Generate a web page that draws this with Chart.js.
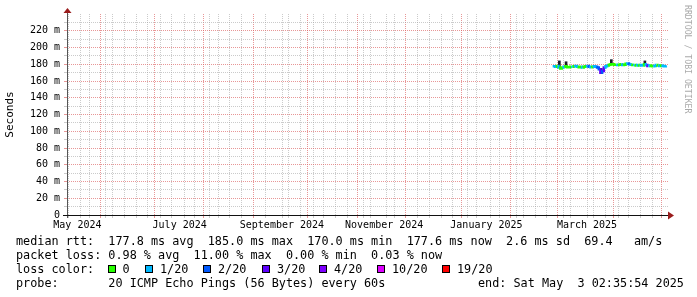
<!DOCTYPE html>
<html>
<head>
<meta charset="utf-8">
<script src="https://cdn.jsdelivr.net/npm/chart.js@4.4.1/dist/chart.umd.min.js"></script>
<style>
body { margin: 0; background: #fff; }
#wrap { position: relative; width: 697px; height: 297px; overflow: hidden; font-family: 'DejaVu Sans Mono', monospace; color: #000; }
#chart { position: absolute; left: 0; top: 0; }
.row { position: absolute; margin: 0; font-family: 'DejaVu Sans Mono', monospace; font-size: 11.8px; line-height: 14px; white-space: pre; }
.box { position: absolute; width: 8px; height: 8px; box-sizing: border-box; border: 1px solid #000; }
#credit { position: absolute; left: 683px; top: 5px; writing-mode: vertical-rl; font-size: 8.2px; color: #aaa; white-space: pre; }
</style>
</head>
<body>
<div id="wrap">
  <canvas id="chart" width="697" height="297"></canvas>
  <div id="credit">RRDTOOL / TOBI OETIKER</div>
  <div class="row" style="left:16px;top:234px">median rtt:  177.8 ms avg  185.0 ms max  170.0 ms min  177.6 ms now  2.6 ms sd  69.4   am/s</div>
  <div class="row" style="left:16px;top:248px">packet loss: 0.98 % avg  11.00 % max  0.00 % min  0.03 % now</div>
  <div class="row" style="left:16px;top:262px">loss color:</div>
  <div id="lossLegend"></div>
  <div class="row" style="left:16px;top:276px">probe:       20 ICMP Echo Pings (56 Bytes) every 60s</div>
  <div class="row" style="left:478px;top:276px">end: Sat May  3 02:35:54 2025</div>
</div>
<script>
// days counted from 2024-05-09
const startDay = 290;
const medianRtt = [177.5, 177.5, 177, 178, 176, 175, 176, 177, 177.5, 176.5,
  176.5, 177, 177, 177.5, 178, 177, 176.5, 177, 176, 177,
  177.5, 178, 177, 176.5, 177, 177.5, 177, 176, 174, 170,
  172, 176, 177.5, 178.5, 179.5, 180, 180, 179.5, 179.5, 179,
  179.5, 180, 179, 179.5, 180.5, 181, 180, 179.5, 179, 179,
  178.5, 179, 178.5, 179, 178.5, 180, 179, 178, 178.5, 178,
  177.5, 178, 179, 178.5, 178, 178.5, 178, 177.5, 177.6];
// lost pings out of 20
const lossCount = [1, 1, 0, 1, 0, 0, 1, 0, 0, 0,
  0, 1, 0, 1, 1, 0, 0, 1, 0, 0,
  1, 2, 1, 0, 1, 1, 2, 2, 3, 2,
  3, 1, 1, 0, 0, 0, 0, 0, 1, 0,
  0, 1, 0, 0, 1, 2, 1, 0, 1, 0,
  1, 0, 1, 1, 0, 1, 3, 1, 0, 0,
  1, 1, 0, 1, 0, 1, 1, 1, 1];
const smokeDays = [294, 298, 319, 325, 345];
const smokeLow = [176, 177, 169, 180, 179];
const smokeHigh = [184, 183, 175, 185.5, 184];

const lossLevels = [0, 1, 2, 3, 4, 10, 19];
const lossLabels = ['0', '1/20', '2/20', '3/20', '4/20', '10/20', '19/20'];
const lossColors = ['#26ff00', '#00b8ff', '#0059ff', '#5e00ff', '#7e00ff', '#dd00ff', '#ff0000'];

const xLabels = ['May 2024', 'July 2024', 'September 2024', 'November 2024', 'January 2025', 'March 2025'];
const xLabelDays = [6.5, 67.5, 128.5, 189.5, 250.5, 310.5];
const monthStarts = [23, 53, 84, 115, 145, 176, 206, 237, 268, 296, 327, 357];

// legend boxes
const legendX = [122.5, 160, 218, 277, 334, 392, 457];
const lossLegend = document.getElementById('lossLegend');
lossLabels.forEach(function (lab, i) {
  const b = document.createElement('div');
  b.className = 'box';
  b.style.left = (legendX[i] - 15) + 'px';
  b.style.top = '264.5px';
  b.style.background = lossColors[i];
  lossLegend.appendChild(b);
  const t = document.createElement('div');
  t.className = 'row';
  t.style.left = legendX[i] + 'px';
  t.style.top = '262px';
  t.textContent = lab;
  lossLegend.appendChild(t);
});

function lossColor(n) {
  let c = lossColors[0];
  lossLevels.forEach(function (lv, i) { if (n >= lv) c = lossColors[i]; });
  return c;
}

const weekSundays = [];
for (let d = 3; d <= 358; d += 7) weekSundays.push(d);

const majorGrid = 'rgba(220,95,95,0.65)';
const minorGrid = 'rgba(160,160,160,0.55)';
const none = 'rgba(0,0,0,0)';

function xGridColor(ctx) {
  if (!ctx.tick) return none;
  const v = ctx.tick.value;
  if (monthStarts.includes(v)) return majorGrid;
  if (weekSundays.includes(v)) return minorGrid;
  return none;
}
function yGridColor(ctx) {
  if (!ctx.tick) return none;
  const v = ctx.tick.value;
  if (v === 0 || v >= 240) return none;
  return v % 20 === 0 ? majorGrid : minorGrid;
}

const axesPlugin = {
  id: 'rrdAxes',
  afterDraw(chart) {
    const c = chart.ctx, a = chart.chartArea;
    c.save();
    c.lineWidth = 1;
    c.strokeStyle = '#555';
    c.beginPath();
    c.moveTo(a.left + 0.5, a.bottom + 3);
    c.lineTo(a.left + 0.5, a.top - 2);
    c.stroke();
    c.strokeStyle = '#111';
    c.beginPath();
    c.moveTo(a.left - 4, a.bottom + 0.5);
    c.lineTo(a.right + 1, a.bottom + 0.5);
    c.stroke();
    c.fillStyle = '#9a1c1c';
    c.beginPath();
    c.moveTo(a.left - 3.5, a.top - 1);
    c.lineTo(a.left + 4.5, a.top - 1);
    c.lineTo(a.left + 0.5, a.top - 6);
    c.closePath();
    c.fill();
    c.beginPath();
    c.moveTo(a.right, a.bottom - 3.5);
    c.lineTo(a.right, a.bottom + 4.5);
    c.lineTo(a.right + 6, a.bottom + 0.5);
    c.closePath();
    c.fill();
    c.restore();
  }
};

const tickFont = { family: 'DejaVu Sans Mono', size: 10 };

new Chart(document.getElementById('chart').getContext('2d'), {
  type: 'line',
  data: {
    datasets: [{
      type: 'line',
      order: 0,
      data: medianRtt.map(function (v, i) { return { x: startDay + i, y: v }; }),
      borderWidth: 2.5,
      stepped: 'middle',
      pointRadius: 0,
      borderColor: lossColor(lossCount[0]),
      segment: {
        borderColor: function (ctx) { return lossColor(lossCount[ctx.p0DataIndex]); }
      }
    }, {
      type: 'bar',
      order: 1,
      data: smokeDays.map(function (d, i) { return { x: d, y: [smokeLow[i], smokeHigh[i]] }; }),
      backgroundColor: '#1c1c28',
      barThickness: 2
    }]
  },
  options: {
    responsive: false,
    animation: false,
    layout: { padding: { left: 0, right: 29, top: 14, bottom: 65 } },
    plugins: { legend: { display: false }, tooltip: { enabled: false } },
    scales: {
      x: {
        type: 'linear',
        min: 0.3,
        max: 358.8,
        offset: false,
        afterFit: function (s) { s.height = 17; },
        afterBuildTicks: function (s) {
          const vals = weekSundays.filter(function (d) { return !monthStarts.includes(d); })
            .concat(monthStarts, xLabelDays).sort(function (a, b) { return a - b; });
          s.ticks = vals.map(function (v) { return { value: v }; });
        },
        grid: { color: xGridColor, tickColor: xGridColor, tickLength: 3, lineWidth: 1 },
        border: { display: false, dash: [1, 1] },
        ticks: {
          autoSkip: false, maxRotation: 0, minRotation: 0, padding: 1,
          font: tickFont, color: '#000',
          callback: function (v) {
            const k = xLabelDays.indexOf(v);
            return k >= 0 ? xLabels[k] : '';
          }
        }
      },
      y: {
        min: 0,
        max: 240,
        afterFit: function (s) { s.width = 67; },
        grid: { color: yGridColor, tickColor: yGridColor, tickLength: 3, lineWidth: 1 },
        border: { display: false, dash: [1, 1] },
        title: {
          display: true, text: 'Seconds', color: '#000',
          font: { family: 'DejaVu Sans Mono', size: 11 },
          padding: { top: 4, bottom: 0 }
        },
        ticks: {
          stepSize: 10, autoSkip: false, padding: 4,
          font: tickFont, color: '#000',
          callback: function (v) {
            if (v % 20 !== 0 || v >= 240) return '';
            return v === 0 ? '0' : v + ' m';
          }
        }
      }
    }
  },
  plugins: [axesPlugin]
});
</script>
</body>
</html>
